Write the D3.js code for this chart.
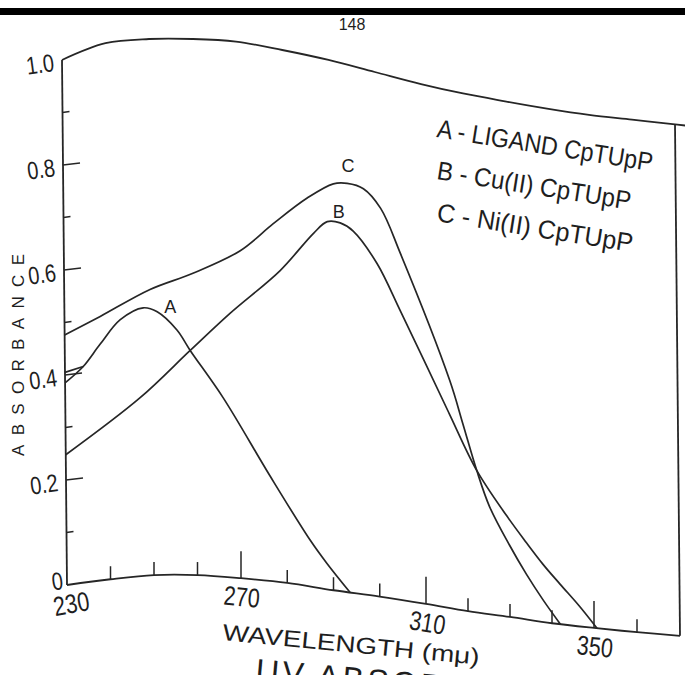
<!DOCTYPE html>
<html>
<head>
<meta charset="utf-8">
<script src="https://cdn.jsdelivr.net/npm/d3@7"></script>
<style>
  body { margin: 0; background: #fff; }
  text { font-family: "Liberation Sans", Arial, sans-serif; fill: #1e1e1e; }
</style>
</head>
<body>
<div id="chart"></div>
<script>
// wavelengths (mμ) where the bent frame of the scan was read
const frameWavelengths = [230, 240, 250, 260, 270, 280, 290, 300, 310, 320, 330, 340, 350, 360, 370];
// apparent absorbance of the baseline and the top edge (the page is curled in the scan)
const frameBottom = [0, 0.011, 0.019, 0.019, 0.013, 0.004, -0.010, -0.022, -0.036, -0.050, -0.061, -0.073, -0.082, -0.090, -0.097];
const frameTop = [1.002, 1.034, 1.042, 1.042, 1.037, 1.021, 1.002, 0.979, 0.956, 0.938, 0.923, 0.909, 0.897, 0.888, 0.879];
const topEdgeEnd = 372.5;

// spectra: [wavelength, absorbance]
const ligandA = [[230, 0.385], [234.2, 0.408], [238.1, 0.442], [242.8, 0.482], [248.1, 0.500],
  [251.3, 0.491], [255.8, 0.457], [258.8, 0.419], [266.3, 0.334], [276.5, 0.197], [285.0, 0.088], [288.6, 0.049], [293.6, 0]];
const ligandSpur = [[230, 0.405], [234.2, 0.408]];
const copperB = [[230, 0.248], [247.2, 0.333], [258.8, 0.419], [268.1, 0.493], [279.1, 0.585], [286.4, 0.667],
  [289.4, 0.694], [292.2, 0.697], [295.0, 0.687], [300.1, 0.635], [305.0, 0.555], [310, 0.47], [316, 0.375],
  [322.4, 0.275], [329.5, 0.195], [334, 0.150], [338, 0.112], [342, 0.078], [346.5, 0.040], [350.7, 0]];
const nickelC = [[230, 0.476], [238.2, 0.494], [249.7, 0.533], [259.6, 0.563], [270.5, 0.611], [277.7, 0.671],
  [285.1, 0.731], [290.8, 0.768], [293.8, 0.775], [297.3, 0.772], [301.0, 0.742], [305.2, 0.664], [316.2, 0.439],
  [319.2, 0.361], [322.4, 0.275], [325.4, 0.208], [330, 0.14], [334, 0.088], [338, 0.042], [342, 0]];

const curveLabels = [
  {key: "A", w: 254.3, a: 0.50},
  {key: "B", w: 291.9, a: 0.718},
  {key: "C", w: 294.0, a: 0.81}
];
const legendLines = ["A - LIGAND CpTUpP", "B - Cu(II) CpTUpP", "C - Ni(II) CpTUpP"];

const xMinorTicks = [240, 250, 260, 280, 290, 300, 320, 330, 340, 360];
const xMajorTicks = [270, 310, 350];
const xLabelValues = [230, 270, 310, 350];
const xLabels = ["230", "270", "310", "350"];
const yMinorTicks = [0.1, 0.3, 0.5, 0.7, 0.9];
const yMajorTicks = [0.2, 0.4, 0.6, 0.8];
const yLabelValues = [1, 0.8, 0.6, 0.4, 0.2, 0];
const yLabels = ["1.0", "0.8", "0.6", "0.4", "0.2", "0"];

const width = 685, height = 675;

const svg = d3.select("#chart")
  .append("svg")
    .attr("width", width)
    .attr("height", height)
    .style("display", "block");

// hand drawn tick spacing is uneven, so x is piecewise linear
const x = d3.scaleLinear()
  .domain([230, 270, 310, 350, 370])
  .range([67, 241, 426, 594, 680]);
const y = d3.scaleLinear()
  .domain([0, 1])
  .range([585, 61]);

const bottomAt = d3.scaleLinear().domain(frameWavelengths).range(frameBottom);
const topAt = d3.scaleLinear().domain(frameWavelengths).range(frameTop);
const lean = 5; // the left axis leans a little in the scan

// place a (wavelength, absorbance) pair inside the bent frame
const px = (w, a) => x(w) - lean * a;
const py = (w, a) => y(bottomAt(w) + a * (topAt(w) - bottomAt(w)));

const line = d3.line()
  .x(d => px(d[0], d[1]))
  .y(d => py(d[0], d[1]))
  .curve(d3.curveCatmullRom.alpha(0.5));

const ink = "#262626";

// black bar and page number at the top of the scan
svg.append("rect")
  .attr("x", 0).attr("y", 8)
  .attr("width", width).attr("height", 7)
  .attr("fill", "#000");
svg.append("text")
  .attr("x", 352).attr("y", 30)
  .attr("text-anchor", "middle")
  .attr("font-size", 16)
  .text("148");

// frame
const frame = svg.append("g")
  .attr("fill", "none")
  .attr("stroke", ink)
  .attr("stroke-width", 1.8);

frame.append("path")
  .attr("d", line(frameWavelengths.map(w => [w, 0])));
frame.append("path")
  .attr("d", line(frameWavelengths.map(w => [w, 1]).concat([[topEdgeEnd, 1]])));
frame.append("path")
  .attr("d", line([[230, 0], [230, 1]]));
frame.append("path")
  .attr("d", line([[370, 0], [370, 1]]));

// ticks
const ticks = svg.append("g")
  .attr("stroke", ink)
  .attr("stroke-width", 1.5);

ticks.selectAll(".xminor")
  .data(xMinorTicks)
  .enter()
  .append("line")
    .attr("x1", d => px(d, 0)).attr("x2", d => px(d, 0))
    .attr("y1", d => py(d, 0)).attr("y2", d => py(d, 0) - 13);
ticks.selectAll(".xmajor")
  .data(xMajorTicks)
  .enter()
  .append("line")
    .attr("x1", d => px(d, 0)).attr("x2", d => px(d, 0))
    .attr("y1", d => py(d, 0)).attr("y2", d => py(d, 0) - 27);
ticks.selectAll(".yminor")
  .data(yMinorTicks)
  .enter()
  .append("line")
    .attr("x1", d => px(230, d)).attr("x2", d => px(230, d) + 7)
    .attr("y1", d => py(230, d)).attr("y2", d => py(230, d) - 1);
ticks.selectAll(".ymajor")
  .data(yMajorTicks)
  .enter()
  .append("line")
    .attr("x1", d => px(230, d)).attr("x2", d => px(230, d) + 17)
    .attr("y1", d => py(230, d)).attr("y2", d => py(230, d) - 2);

// tick labels, turned with the bent baseline
const slope = w => Math.atan2(py(w + 2, 0) - py(w - 2, 0), px(w + 2, 0) - px(w - 2, 0)) * 180 / Math.PI;

svg.selectAll(".xlabel")
  .data(xLabelValues)
  .enter()
  .append("text")
    // the first label sits a little right of the corner
    .attr("transform", d => `translate(${px(d, 0) + (d === 230 ? 6 : 0)}, ${py(d, 0) + 28}) rotate(${slope(d) - (d === 230 ? 3 : 0)}) scale(0.8, 1)`)
    .attr("text-anchor", "middle")
    .attr("font-size", 27)
    .text((d, i) => xLabels[i]);

svg.selectAll(".ylabel")
  .data(yLabelValues)
  .enter()
  .append("text")
    .attr("transform", d => d === 0
      ? `translate(${px(230, d) - 3}, ${py(230, d) + 4}) rotate(-8) scale(0.8, 1)`
      : `translate(${px(230, d) - 7}, ${py(230, d) + 11}) rotate(-8) scale(0.8, 1)`)
    .attr("text-anchor", "end")
    .attr("font-size", 25)
    .text((d, i) => yLabels[i]);

// axis titles
svg.append("text")
  .attr("transform", "translate(24, 355) rotate(-90)")
  .attr("text-anchor", "middle")
  .attr("font-size", 17)
  .attr("textLength", 202)
  .attr("lengthAdjust", "spacing")
  .text("ABSORBANCE");

svg.append("text")
  .attr("transform", "translate(222, 640) rotate(5.5)")
  .attr("font-size", 23)
  .attr("textLength", 258)
  .attr("lengthAdjust", "spacingAndGlyphs")
  .text("WAVELENGTH (mμ)");

svg.append("text")
  .attr("transform", "translate(255, 681) rotate(5)")
  .attr("font-size", 32)
  .attr("letter-spacing", 3.5)
  .text("UV ABSORPTION SPECTRA");

// spectra
const spectra = svg.append("g")
  .attr("fill", "none")
  .attr("stroke", ink)
  .attr("stroke-width", 1.7);

[ligandA, ligandSpur, copperB, nickelC].forEach(series => {
  spectra.append("path").attr("d", line(series));
});

svg.selectAll(".clabel")
  .data(curveLabels)
  .enter()
  .append("text")
    .attr("x", d => px(d.w, d.a))
    .attr("y", d => py(d.w, d.a))
    .attr("dy", "0.36em")
    .attr("text-anchor", "middle")
    .attr("font-size", 18)
    .text(d => d.key);

// legend
const legendLengths = [218, 196, 198];
svg.selectAll(".legend")
  .data(legendLines)
  .enter()
  .append("text")
    .attr("transform", (d, i) => `translate(436, ${137 + i * 42}) rotate(9)`)
    .attr("font-size", 26)
    .attr("textLength", (d, i) => legendLengths[i])
    .attr("lengthAdjust", "spacingAndGlyphs")
    .text(d => d);
</script>
</body>
</html>
